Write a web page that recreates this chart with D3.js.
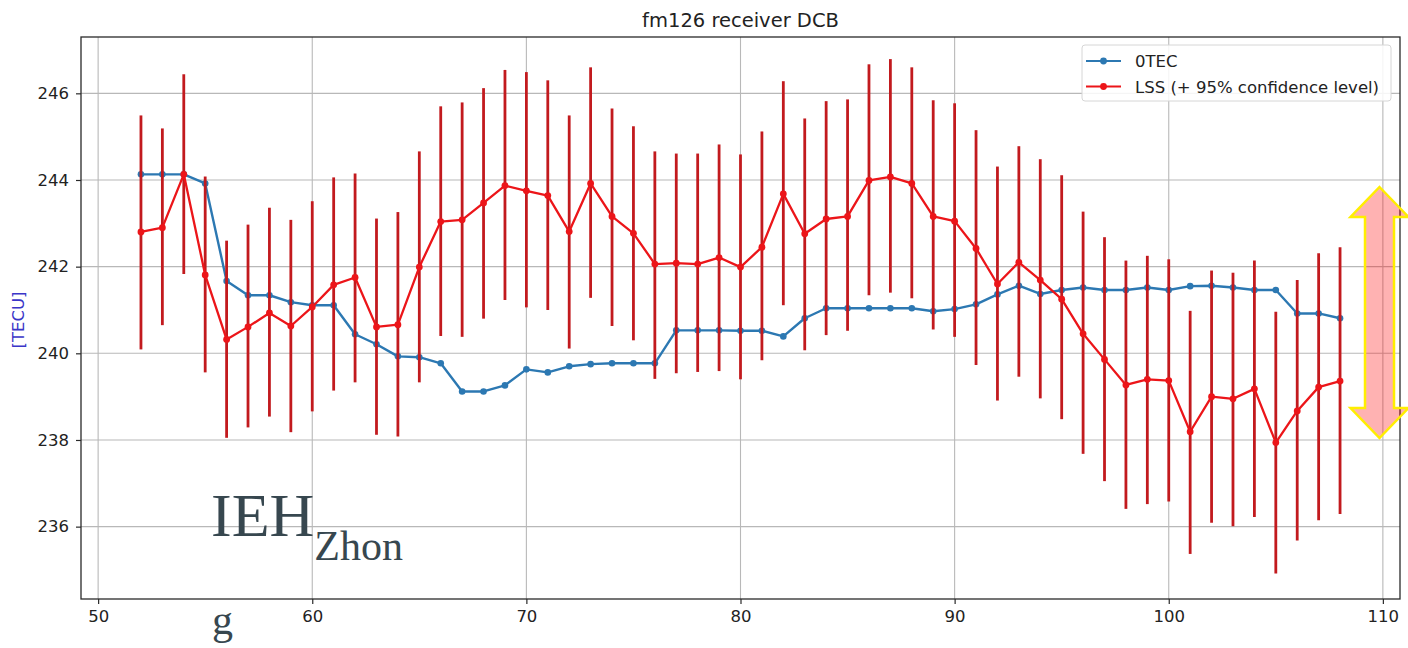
<!DOCTYPE html>
<html>
<head>
<meta charset="utf-8">
<script src="https://cdn.jsdelivr.net/npm/d3@7"></script>
<style>
  html, body { margin: 0; padding: 0; background: #fff; }
  svg { display: block; }
  text { font-family: "DejaVu Sans", sans-serif; }
</style>
</head>
<body>
<svg id="chart" width="1408" height="648"></svg>
<script>
// ---------- data ----------
const days = [52,53,54,55,56,57,58,59,60,61,62,63,64,65,66,67,68,69,70,71,72,73,74,75,76,77,78,79,80,
              81,82,83,84,85,86,87,88,89,90,91,92,93,94,95,96,97,98,99,100,101,102,103,104,105,106,107,108];

const otec = [244.13,244.13,244.13,243.92,241.67,241.34,241.34,241.18,241.11,241.11,240.44,240.21,239.93,239.91,
              239.77,239.12,239.12,239.26,239.63,239.56,239.70,239.75,239.77,239.77,239.77,240.53,240.53,240.53,
              240.52,240.52,240.39,240.81,241.04,241.04,241.04,241.04,241.04,240.97,241.02,241.13,241.36,241.56,
              241.37,241.46,241.52,241.46,241.46,241.52,241.46,241.55,241.56,241.52,241.46,241.46,240.92,240.92,240.81];

const lss = [242.80,242.90,244.13,241.81,240.32,240.61,240.93,240.63,241.07,241.58,241.75,240.61,240.66,241.99,
             243.04,243.08,243.47,243.87,243.75,243.64,242.81,243.92,243.16,242.77,242.06,242.08,242.06,242.21,
             241.99,242.45,243.68,242.76,243.10,243.16,243.99,244.07,243.92,243.16,243.05,242.42,241.60,242.10,
             241.69,241.25,240.45,239.86,239.27,239.40,239.37,238.19,239.00,238.95,239.18,237.94,238.67,239.22,239.36];

const lssUpper = [245.49,245.19,246.44,244.08,242.60,242.97,243.36,243.08,243.51,244.06,244.15,243.11,243.26,244.66,
                  245.70,245.79,246.12,246.54,246.49,246.30,245.49,246.60,245.65,245.24,244.66,244.61,244.61,244.82,
                  244.59,245.12,246.28,245.42,245.82,245.86,246.67,246.79,246.60,245.84,245.77,245.15,244.31,244.78,
                  244.48,244.11,243.27,242.68,242.14,242.25,242.17,240.98,241.91,241.86,242.14,240.96,241.69,242.31,242.45];

const lssLower = [240.09,240.65,241.83,239.56,238.05,238.29,238.54,238.18,238.66,239.14,239.33,238.12,238.08,239.33,
                  240.40,240.38,240.80,241.23,241.06,241.00,240.11,241.28,240.63,240.30,239.41,239.54,239.57,239.59,
                  239.40,239.84,241.11,240.07,240.42,240.52,241.34,241.40,241.27,240.55,240.38,239.73,238.91,239.46,
                  238.96,238.48,237.68,237.05,236.41,236.52,236.58,235.37,236.09,236.01,236.22,234.92,235.68,236.15,236.29];

const xTicks = [50,60,70,80,90,100,110];
const yTicks = [236,238,240,242,244,246];
const seriesNames = ["0TEC", "LSS (+ 95% confidence level)"];
const titleText = "fm126 receiver DCB";
const yLabel = "[TECU]";

// ---------- layout ----------
const W = 1408, H = 648;
const plot = {left: 81, right: 1400, top: 37, bottom: 599};
const C = {
  blue: "#2c78b2",
  red: "#ec1519",
  bar: "#c21a1e",
  grid: "#b8b8b8",
  spine: "#2a2a2a",
  tick: "#222"
};

const svg = d3.select("#chart");
svg.append("rect").attr("width", W).attr("height", H).attr("fill", "#fff");

const x = d3.scaleLinear().domain([49.2, 110.8]).range([plot.left, plot.right]);
const y = d3.scaleLinear().domain([234.33, 247.30]).range([plot.bottom, plot.top]);

// gridlines
const grid = svg.append("g");
grid.selectAll(".gx").data(xTicks).join("line")
  .attr("x1", d => x(d)).attr("x2", d => x(d))
  .attr("y1", plot.top).attr("y2", plot.bottom)
  .attr("stroke", C.grid).attr("stroke-width", 1.1);
grid.selectAll(".gy").data(yTicks).join("line")
  .attr("x1", plot.left).attr("x2", plot.right)
  .attr("y1", d => y(d)).attr("y2", d => y(d))
  .attr("stroke", C.grid).attr("stroke-width", 1.1);

// axes
const xAxis = d3.axisBottom(x).tickValues(xTicks).tickSize(5).tickPadding(6).tickFormat(d3.format("d"));
const yAxis = d3.axisLeft(y).tickValues(yTicks).tickSize(5).tickPadding(7).tickFormat(d3.format("d"));
const gx = svg.append("g").attr("transform", `translate(0,${plot.bottom})`).call(xAxis);
const gy = svg.append("g").attr("transform", `translate(${plot.left},0)`).call(yAxis);
[gx, gy].forEach(g => {
  g.select(".domain").remove();
  g.selectAll(".tick line").attr("stroke", C.spine).attr("stroke-width", 1.2);
  g.selectAll(".tick text").attr("fill", C.tick).style("font-size", "16.5px")
    .style("font-family", "'DejaVu Sans', sans-serif");
});

// data layers
const pts = days.map((d, i) => ({d, o: otec[i], l: lss[i], hi: lssUpper[i], lo: lssLower[i]}));

const lineO = d3.line().x(p => x(p.d)).y(p => y(p.o));
const lineL = d3.line().x(p => x(p.d)).y(p => y(p.l));

svg.append("path").datum(pts).attr("d", lineO)
  .attr("fill", "none").attr("stroke", C.blue).attr("stroke-width", 2.4).attr("stroke-linejoin", "round");
svg.append("g").selectAll("circle").data(pts).join("circle")
  .attr("cx", p => x(p.d)).attr("cy", p => y(p.o)).attr("r", 3.3).attr("fill", C.blue);

svg.append("g").selectAll("line").data(pts).join("line")
  .attr("x1", p => x(p.d)).attr("x2", p => x(p.d))
  .attr("y1", p => y(p.hi)).attr("y2", p => y(p.lo))
  .attr("stroke", C.bar).attr("stroke-width", 2.8);

svg.append("path").datum(pts).attr("d", lineL)
  .attr("fill", "none").attr("stroke", C.red).attr("stroke-width", 2.3).attr("stroke-linejoin", "round");
svg.append("g").selectAll("circle").data(pts).join("circle")
  .attr("cx", p => x(p.d)).attr("cy", p => y(p.l)).attr("r", 3.4).attr("fill", C.red);

// spines
svg.append("rect")
  .attr("x", plot.left).attr("y", plot.top)
  .attr("width", plot.right - plot.left).attr("height", plot.bottom - plot.top)
  .attr("fill", "none").attr("stroke", C.spine).attr("stroke-width", 1.3);

// title & y label
svg.append("text").attr("x", (plot.left + plot.right) / 2).attr("y", 27)
  .attr("text-anchor", "middle").attr("fill", "#222").style("font-size", "19.5px").text(titleText);
svg.append("text")
  .attr("transform", `translate(24,${(plot.top + plot.bottom) / 2 + 2}) rotate(-90)`)
  .attr("text-anchor", "middle").attr("fill", "#3a35c8").style("font-size", "16.5px").text(yLabel);

// legend
const leg = svg.append("g").attr("transform", "translate(1082,45)");
leg.append("rect").attr("width", 309).attr("height", 56).attr("rx", 3)
  .attr("fill", "#fff").attr("fill-opacity", 0.85).attr("stroke", "#d6d6d6");
const legItems = [{name: seriesNames[0], color: C.blue}, {name: seriesNames[1], color: C.red}];
legItems.forEach((it, i) => {
  const cy = 16 + i * 25.5;
  leg.append("line").attr("x1", 4).attr("x2", 39).attr("y1", cy).attr("y2", cy)
    .attr("stroke", it.color).attr("stroke-width", 2.2);
  leg.append("circle").attr("cx", 21.5).attr("cy", cy).attr("r", 3.4).attr("fill", it.color);
  leg.append("text").attr("x", 53).attr("y", cy + 6).attr("fill", "#222")
    .style("font-size", "16.5px").text(it.name);
});

// double arrow annotation
const ax = 1379.5, aTop = 187, aHb1 = 217, aHb2 = 408, aBot = 438, sw = 14.5, hw = 29;
const arrowPts = [[ax, aTop], [ax + hw, aHb1], [ax + sw, aHb1], [ax + sw, aHb2], [ax + hw, aHb2],
                  [ax, aBot], [ax - hw, aHb2], [ax - sw, aHb2], [ax - sw, aHb1], [ax - hw, aHb1]];
svg.append("polygon").attr("points", arrowPts.map(p => p.join(",")).join(" "))
  .attr("fill", "rgba(255,0,0,0.3)").attr("stroke", "#ffee00").attr("stroke-width", 2.5)
  .attr("stroke-linejoin", "miter");

// overlay watermark text
const wm = svg.append("text").attr("x", 211).attr("y", 536).attr("fill", "#37474f")
  .style("font-family", "'Liberation Serif', 'Times New Roman', serif");
wm.append("tspan").style("font-size", "62px").text("IEH");
wm.append("tspan").style("font-size", "42px").attr("dy", 24).text("Zhon");
svg.append("text").attr("x", 212).attr("y", 634).attr("fill", "#37474f")
  .style("font-family", "'Liberation Serif', 'Times New Roman', serif")
  .style("font-size", "42px").text("g");
</script>
</body>
</html>
